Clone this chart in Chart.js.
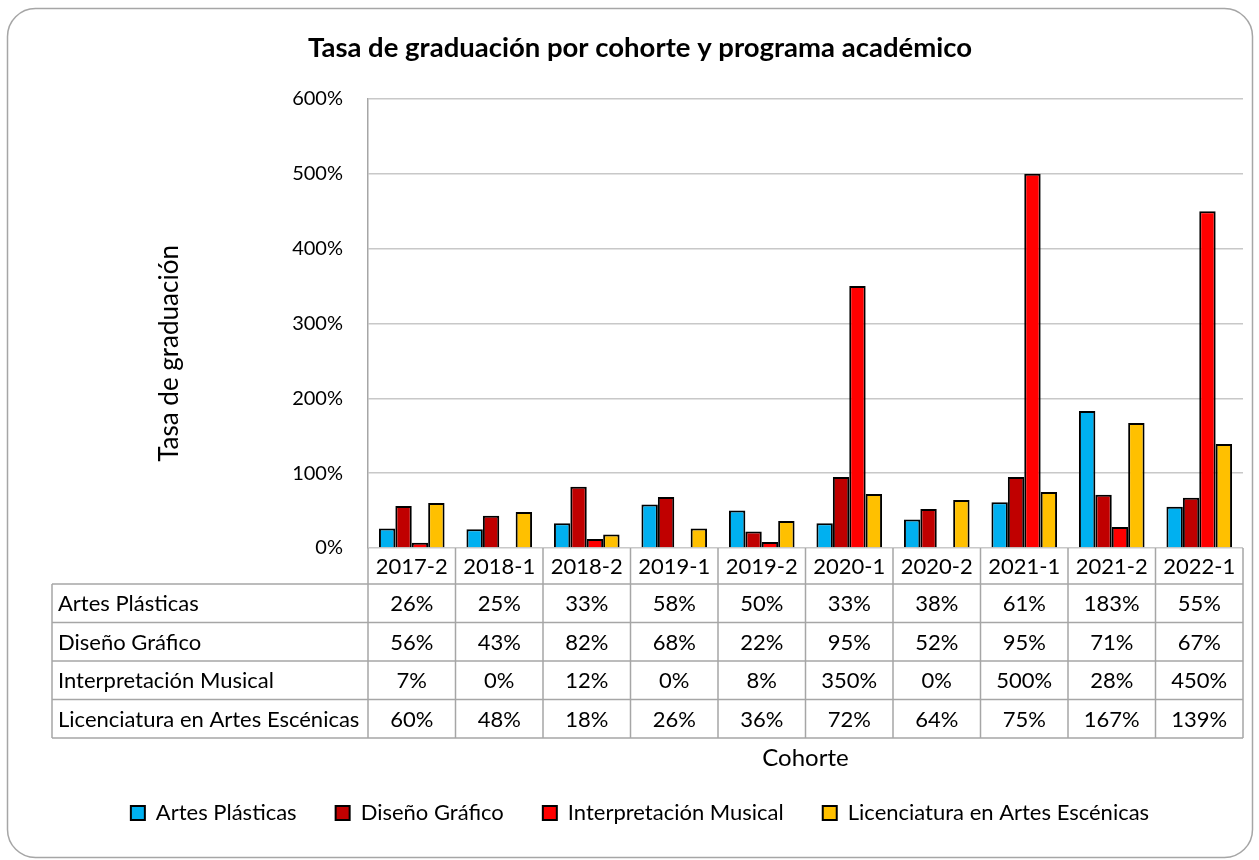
<!DOCTYPE html>
<html>
<head>
<meta charset="utf-8">
<title>Tasa de graduación</title>
<script src="https://cdn.jsdelivr.net/npm/chart.js@4.4.0/dist/chart.umd.min.js"></script>
<style>
body { margin: 0; background: #fff; }
</style>
</head>
<body>
<canvas id="graduacionChart" width="1259" height="860"></canvas>
<script>
const cohortes = ['2017-2', '2018-1', '2018-2', '2019-1', '2019-2', '2020-1', '2020-2', '2021-1', '2021-2', '2022-1'];
const artesPlasticas = [26, 25, 33, 58, 50, 33, 38, 61, 183, 55];
const disenoGrafico = [56, 43, 82, 68, 22, 95, 52, 95, 71, 67];
const interpretacionMusical = [7, 0, 12, 0, 8, 350, 0, 500, 28, 450];
const licArtesEscenicas = [60, 48, 18, 26, 36, 72, 64, 75, 167, 139];
const programas = ['Artes Plásticas', 'Diseño Gráfico', 'Interpretación Musical', 'Licenciatura en Artes Escénicas'];
const colores = ['#00B0F0', '#C00000', '#FF0000', '#FFC000'];
const yMax = 600;
const yStep = 100;

const series = [artesPlasticas, disenoGrafico, interpretacionMusical, licArtesEscenicas];
const FONT = 'Lato';

// marco redondeado del grafico
const chartFrame = {
    id: 'chartFrame',
    beforeDraw(chart) {
        const ctx = chart.ctx;
        ctx.save();
        ctx.fillStyle = '#fff';
        ctx.fillRect(0, 0, chart.width, chart.height);
        ctx.strokeStyle = '#a6a6a6';
        ctx.lineWidth = 1.5;
        ctx.beginPath();
        ctx.roundRect(7.5, 8.5, 1245, 849, 28);
        ctx.stroke();
        ctx.restore();
    }
};

// tabla de datos debajo del eje x
const dataTable = {
    id: 'dataTable',
    afterDraw(chart) {
        const { ctx, chartArea: a, scales: { x } } = chart;
        const colW = (a.right - a.left) / cohortes.length;
        const headerH = 36;
        const rowH = 38.5;
        const labelLeft = 52;
        const top = a.bottom;
        const rowsTop = top + headerH;
        const bottom = rowsTop + rowH * series.length;

        ctx.save();
        ctx.strokeStyle = '#a6a6a6';
        ctx.lineWidth = 1.5;
        ctx.beginPath();
        for (let r = 0; r <= series.length; r++) {
            const y = rowsTop + r * rowH;
            ctx.moveTo(labelLeft, y);
            ctx.lineTo(a.right, y);
        }
        ctx.moveTo(labelLeft, rowsTop);
        ctx.lineTo(labelLeft, bottom);
        for (let i = 0; i <= cohortes.length; i++) {
            const xx = a.left + i * colW;
            ctx.moveTo(xx, top);
            ctx.lineTo(xx, bottom);
        }
        ctx.stroke();

        ctx.fillStyle = '#000';
        ctx.font = '22px ' + FONT;
        ctx.textBaseline = 'middle';
        ctx.textAlign = 'center';
        cohortes.forEach((c, i) => {
            ctx.fillText(c, x.getPixelForValue(i), top + headerH / 2 + 1);
        });
        series.forEach((vals, r) => {
            const cy = rowsTop + r * rowH + rowH / 2 + 1;
            ctx.textAlign = 'left';
            ctx.fillText(programas[r], labelLeft + 6, cy);
            ctx.textAlign = 'center';
            vals.forEach((v, i) => {
                ctx.fillText(v + '%', x.getPixelForValue(i), cy);
            });
        });
        ctx.restore();
    }
};

const ctx = document.getElementById('graduacionChart').getContext('2d');
new Chart(ctx, {
    type: 'bar',
    data: {
        labels: cohortes,
        datasets: series.map((vals, i) => ({
            label: programas[i],
            data: vals,
            backgroundColor: colores[i],
            borderColor: '#000',
            borderWidth: 2,
            categoryPercentage: 0.75,
            barPercentage: 1
        }))
    },
    options: {
        responsive: false,
        animation: false,
        devicePixelRatio: 1,
        layout: { padding: { left: 37, right: 16, top: 0, bottom: 26 } },
        plugins: {
            title: {
                display: true,
                text: 'Tasa de graduación por cohorte y programa académico',
                color: '#000',
                font: { family: FONT, size: 27.5, weight: 'bold' },
                padding: { top: 32, bottom: 34 }
            },
            legend: {
                position: 'bottom',
                labels: {
                    color: '#000',
                    font: { family: FONT, size: 22 },
                    boxWidth: 14,
                    boxHeight: 14,
                    padding: 39
                }
            },
            tooltip: { enabled: false }
        },
        scales: {
            x: {
                grid: { display: false },
                border: { display: false },
                ticks: { display: false },
                title: {
                    display: true,
                    text: 'Cohorte',
                    color: '#000',
                    font: { family: FONT, size: 24 },
                    padding: { top: 0, bottom: -10 }
                },
                afterFit: s => { s.height = 215; }
            },
            y: {
                min: 0,
                max: yMax,
                ticks: {
                    stepSize: yStep,
                    color: '#000',
                    font: { family: FONT, size: 20 },
                    padding: 25,
                    callback: v => v + '%'
                },
                grid: { color: '#c8c8c8', lineWidth: 1.5, drawTicks: false },
                border: { color: '#a6a6a6', width: 1.5 },
                title: {
                    display: true,
                    text: 'Tasa de graduación         ',
                    color: '#000',
                    font: { family: FONT, size: 26 },
                    padding: { top: 117, bottom: 0 }
                },
                afterFit: s => { s.width = 331; }
            }
        }
    },
    plugins: [chartFrame, dataTable]
});
</script>
</body>
</html>
